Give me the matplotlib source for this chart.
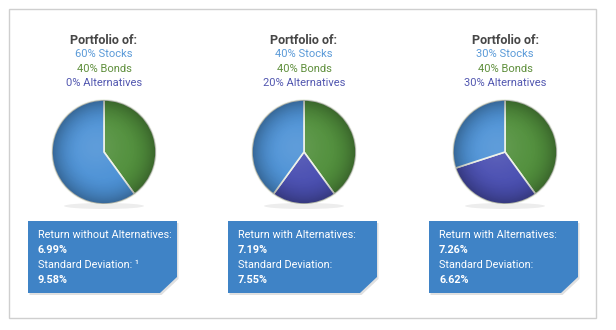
import numpy as np
import matplotlib.pyplot as plt
from matplotlib.patches import Polygon, Rectangle, Circle, Ellipse

# portfolio mixes (percent)
stocks = [60, 40, 30]
bonds = [40, 40, 40]
alts = [0, 20, 30]

ret_labels = ["Return without Alternatives:", "Return with Alternatives:", "Return with Alternatives:"]
returns = ["6.99%", "7.19%", "7.26%"]
std_labels = ["Standard Deviation: \u00b9", "Standard Deviation:", "Standard Deviation:"]
stds = ["9.58%", "7.55%", "6.62%"]

W, H = 616, 330
c_stock = '#4d92d6'
c_bond = '#52903d'
c_alt = '#4b50b2'
c_box = '#3f83c6'

plt.rcParams['font.family'] = ['Roboto', 'DejaVu Sans']

fig = plt.figure(figsize=(W / 100, H / 100), dpi=100)
ax = fig.add_axes([0, 0, 1, 1])

def Y(py):
    # pixel row -> data y
    return H - py

centers = [104, 304, 505]
r = 52
pie_y = 152

# smooth radial shading: darker rim, soft highlight inside
n = 200
gx, gy = np.meshgrid(np.linspace(-1, 1, n), np.linspace(1, -1, n))
rr = np.sqrt(gx**2 + gy**2)
dark = np.zeros((n, n, 4))
dark[..., 3] = np.clip((rr - 0.45) / 0.55, 0, 1) ** 2 * 0.30
light = np.ones((n, n, 4))
light[..., 3] = np.exp(-((gx + 0.15)**2 + (gy - 0.1)**2) / 0.25) * 0.10

for i, cx in enumerate(centers):
    # shadow under the pie
    ax.add_patch(Ellipse((cx, Y(pie_y + r + 2)), 80, 6, color='#000000', alpha=0.07, lw=0))

    vals = [bonds[i], alts[i], stocks[i]]
    cols = [c_bond, c_alt, c_stock]
    keep = [k for k in range(3) if vals[k] > 0]
    ax.pie([vals[k] for k in keep], colors=[cols[k] for k in keep],
           startangle=90, counterclock=False, center=(cx, Y(pie_y)), radius=r,
           wedgeprops=dict(edgecolor='#eef2e8', linewidth=1.2), frame=True)

    for img in (dark, light):
        im = ax.imshow(img, extent=(cx - r, cx + r, Y(pie_y) - r, Y(pie_y) + r), zorder=3)
        im.set_clip_path(Circle((cx, Y(pie_y)), r, transform=ax.transData))

    # headings
    ax.text(cx, Y(40), "Portfolio of:", ha='center', va='center', fontsize=9,
            fontweight='bold', color='#474747')
    ax.text(cx, Y(54), f"{stocks[i]}% Stocks", ha='center', va='center', fontsize=8, color='#5a9ad8')
    ax.text(cx, Y(69), f"{bonds[i]}% Bonds", ha='center', va='center', fontsize=8, color='#5f8f3c')
    ax.text(cx, Y(83), f"{alts[i]}% Alternatives", ha='center', va='center', fontsize=8, color='#5257b0')

    # info box with clipped corner
    x0, x1 = cx - 76, cx + 73
    top, bot = 221, 293
    pts = [(x0, Y(top)), (x1, Y(top)), (x1, Y(277)), (x1 - 17, Y(bot)), (x0, Y(bot))]
    shadow = [(x + 1.5, y - 2) for x, y in pts]
    ax.add_patch(Polygon(shadow, closed=True, color='#000000', alpha=0.12, lw=0))
    ax.add_patch(Polygon(pts, closed=True, color=c_box, lw=0))

    tx = x0 + 10
    ax.text(tx, Y(235), ret_labels[i], ha='left', va='center', fontsize=7.8, color='white')
    ax.text(tx, Y(250), returns[i], ha='left', va='center', fontsize=7.8, color='white', fontweight='bold')
    ax.text(tx, Y(265), std_labels[i], ha='left', va='center', fontsize=7.8, color='white')
    ax.text(tx, Y(280), stds[i], ha='left', va='center', fontsize=7.8, color='white', fontweight='bold')

# outer frame
ax.add_patch(Rectangle((8.5, Y(318)), 587, 309, fill=False, edgecolor='#cfcfcf', lw=1))

ax.set_xlim(0, W)
ax.set_ylim(0, H)
ax.set_aspect('auto')
ax.axis('off')

fig.savefig('out.png', dpi=100, facecolor='white')
